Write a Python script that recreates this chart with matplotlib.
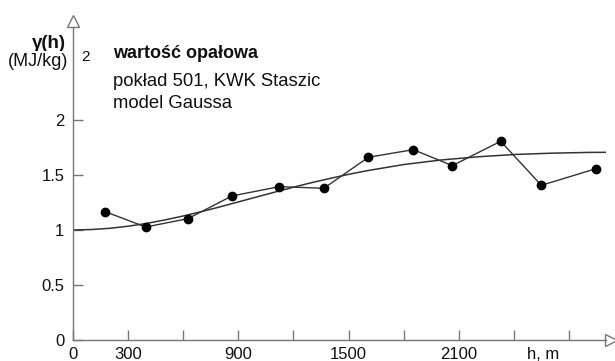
import matplotlib
matplotlib.use("Agg")
import matplotlib.pyplot as plt

plt.rcParams['font.family'] = ['Liberation Sans', 'DejaVu Sans']

lags = [177, 397, 626, 865, 1123, 1365, 1607, 1851, 2063, 2326, 2547, 2844]
gamma = [1.166, 1.027, 1.103, 1.309, 1.394, 1.379, 1.661, 1.730, 1.585, 1.806, 1.406, 1.557]

# fitted Gaussian model curve
model_h = [0, 100, 200, 300, 400, 500, 600, 700, 800, 900, 1000, 1100, 1200, 1300, 1400,
           1500, 1600, 1800, 2000, 2200, 2400, 2600, 2800, 2900]
model_g = [1.000, 1.004, 1.015, 1.034, 1.059, 1.091, 1.127, 1.167, 1.210, 1.255, 1.300,
           1.345, 1.389, 1.431, 1.469, 1.506, 1.539, 1.595, 1.636, 1.665, 1.686, 1.698,
           1.705, 1.706]

xticks = [0, 300, 600, 900, 1200, 1500, 1800, 2100, 2400, 2700]
xlabels = ['0', '300', '', '900', '', '1500', '', '2100', '', '']
yticks = [0, 0.5, 1, 1.5, 2]
ylabels = ['0', '0.5', '1', '1.5', '2']

W, H = 615, 361
fig = plt.figure(figsize=(W / 100, H / 100), dpi=100)
ax = fig.add_axes([72.7 / W, 21 / H, 533.6 / W, 313 / H])

axis_col = '#777777'
line_col = '#333333'
txt_col = '#111111'

ax.plot(model_h, model_g, color=line_col, lw=1.1)
ax.plot(lags, gamma, color=line_col, lw=1.0, marker='o', ms=6,
        mfc='black', mec='black')

ax.set_xlim(0, 2900)
ax.set_ylim(0, 2.845)
for s in ['top', 'right']:
    ax.spines[s].set_visible(False)
for s in ['left', 'bottom']:
    ax.spines[s].set_color(axis_col)
    ax.spines[s].set_linewidth(1.0)

ax.set_xticks(xticks)
ax.set_xticklabels(xlabels)
ax.set_yticks(yticks)
ax.set_yticklabels(ylabels)
ax.tick_params(axis='both', direction='in', length=7, width=1, color=axis_col,
               labelsize=12, labelcolor=txt_col)
ax.tick_params(axis='x', pad=5)
ax.tick_params(axis='y', pad=6)

# open arrow heads at the ends of the axes
ax.plot([2925], [0], marker='>', ms=9, mfc='white', mec=axis_col, mew=1.0,
        clip_on=False)
ax.plot([0], [2.895], marker='^', ms=9, mfc='white', mec=axis_col, mew=1.0,
        clip_on=False)

ax.text(2556, -0.064, 'h, m', ha='center', va='top', fontsize=12, color=txt_col)

# axis title
fig.text(49 / W, 1 - 44 / H, 'γ(h)', ha='center', va='center',
         fontsize=13.5, fontweight='bold', color=txt_col)
fig.text(38 / W, 1 - 62 / H, '(MJ/kg)', ha='center', va='center',
         fontsize=13, color=txt_col,
         bbox=dict(facecolor='white', edgecolor='none', pad=2))
fig.text(86 / W, 1 - 57 / H, '2', ha='center', va='center',
         fontsize=11, color=txt_col)

# description
fig.text(113 / W, 1 - 58 / H, 'wartość opałowa', ha='left', va='baseline',
         fontsize=13, fontweight='bold', color=txt_col)
fig.text(113 / W, 1 - 86 / H, 'pokład 501, KWK Staszic', ha='left',
         va='baseline', fontsize=13.3, color=txt_col)
fig.text(113 / W, 1 - 108 / H, 'model Gaussa', ha='left', va='baseline',
         fontsize=13.3, color=txt_col)

fig.savefig('out.png', dpi=100)
